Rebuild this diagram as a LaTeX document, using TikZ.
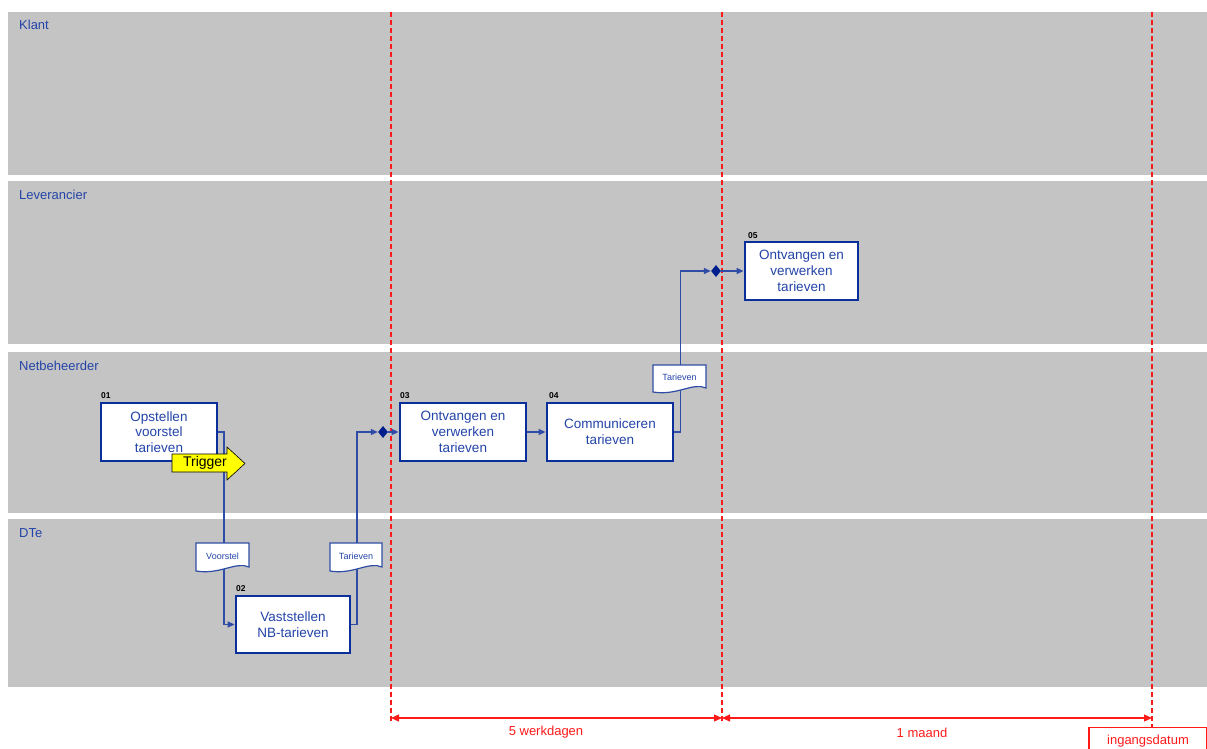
\documentclass[tikz,border=0pt]{standalone}
\usepackage{fontspec}
\setmainfont{Liberation Sans}
\usetikzlibrary{arrows.meta,shapes.geometric}
\definecolor{lanegray}{HTML}{C4C4C4}
\definecolor{bblue}{HTML}{0A2F9A}
\definecolor{tblue}{HTML}{2344A8}
\definecolor{cblue}{HTML}{2F4DA6}
\definecolor{dnavy}{HTML}{001F8C}
\definecolor{rred}{HTML}{FF1A1A}
\definecolor{trig}{HTML}{FFFF00}
\begin{document}
\begin{tikzpicture}[x=1pt,y=-1pt,
  lanelab/.style={anchor=west,inner sep=0pt,text=tblue,font=\fontsize{13}{15}\selectfont},
  proc/.style={draw=bblue,line width=2.8pt,fill=white,text=tblue,align=center,
     font=\fontsize{13.5}{15.8}\selectfont,inner sep=0pt},
  numlab/.style={anchor=south west,inner sep=0pt,font=\bfseries\fontsize{8.5}{9}\selectfont},
  conn/.style={draw=cblue,line width=1.4pt},
  arr/.style={conn,-{Triangle[length=7pt,width=6pt]}},
  docshape/.style={fill=white,draw=cblue,line width=1.2pt},
  doctext/.style={inner sep=0pt,text=tblue,font=\fontsize{9}{10}\selectfont},
  gate/.style={diamond,fill=dnavy,inner sep=0pt,minimum width=10pt,minimum height=12pt},
  vline/.style={draw=rred,line width=1.2pt,dash pattern=on 5pt off 3pt},
  dimline/.style={draw=rred,line width=1.2pt},
  dimlab/.style={inner sep=0pt,text=rred,font=\fontsize{13}{15}\selectfont}
]
\useasboundingbox (0,0) rectangle (1207,749);
% swimlanes
\fill[lanegray] (8,12) rectangle (1207,175);
\fill[lanegray] (8,181) rectangle (1207,344);
\fill[lanegray] (8,352) rectangle (1207,513);
\fill[lanegray] (8,519) rectangle (1207,687);
\node[lanelab] (lk) at (19,25) {Klant};
\node[lanelab] (ll) at (19,195) {Leverancier};
\node[lanelab] (ln) at (19,366) {Netbeheerder};
\node[lanelab] (ld) at (19,533) {DTe};
% time lines
\coordinate (v1t) at (391,12); \coordinate (v1b) at (391,721);
\coordinate (v2t) at (722,12); \coordinate (v2b) at (722,721);
\coordinate (v3t) at (1152,12); \coordinate (v3b) at (1152,727);
\draw[vline] (v1t) -- (v1b);
\draw[vline] (v2t) -- (v2b);
\draw[vline] (v3t) -- (v3b);
\coordinate (t1) at (391,718);
\coordinate (t2) at (722,718);
\coordinate (t3) at (1152,718);
\draw[dimline,{Triangle[length=8pt,width=7pt]}-{Triangle[length=8pt,width=7pt]}] (t1) -- (t2);
\draw[dimline,{Triangle[length=8pt,width=7pt]}-{Triangle[length=8pt,width=7pt]}] (t2) -- (t3);
\node[dimlab] (w5) at (546,732) {5 werkdagen};
\node[dimlab] (m1) at (922,733) {1 maand};
\draw[rred,line width=1.5pt] (1206.5,750) |- (1089,727.5) -- (1089,750);
\node[dimlab] (ingt) at (1148,741) {ingangsdatum};
% process boxes
\node[proc,minimum width=116pt,minimum height=58pt] (b1) at (159,432) {Opstellen\\voorstel\\tarieven};
\node[proc,minimum width=114pt,minimum height=57pt] (b2) at (293,624.5) {Vaststellen\\NB-tarieven};
\node[proc,minimum width=126pt,minimum height=58pt] (b3) at (463,432) {Ontvangen en\\verwerken\\tarieven};
\node[proc,minimum width=126pt,minimum height=58pt] (b4) at (610,432) {Communiceren\\tarieven};
\node[proc,minimum width=113pt,minimum height=58pt] (b5) at (801.5,271) {Ontvangen en\\verwerken\\tarieven};
\node[numlab] (n1) at (101,399) {01};
\node[numlab] (n2) at (236,592) {02};
\node[numlab] (n3) at (400,399) {03};
\node[numlab] (n4) at (549,399) {04};
\node[numlab] (n5) at (748,239) {05};
% gates
\node[gate] (d1) at (383,432) {};
\node[gate] (d2) at (716,271) {};
% connectors
\draw[arr] (b1.east) -- ++(5.5,0) |- (b2.west);
\draw[arr] (b2.east) -- ++(5.5,0) |- (d1.west);
\draw[arr] (d1.east) -- (b3.west);
\draw[arr] (b3.east) -- (b4.west);
\draw[arr] (b4.east) -- ++(6,0) |- (d2.west);
\draw[arr] (d2.east) -- (b5.west);
% documents
\path[docshape] (196,543) -- (249,543) -- (249,567) .. controls (236,561) and (220,575) .. (196,571) -- cycle;
\node[doctext] (dv) at (222.5,556) {Voorstel};
\path[docshape] (330,543) -- (382,543) -- (382,567) .. controls (369,561) and (353,575) .. (330,571) -- cycle;
\node[doctext] (dt1) at (356,556) {Tarieven};
\path[docshape] (653,365) -- (706,365) -- (706,388) .. controls (693,382) and (677,396) .. (653,392) -- cycle;
\node[doctext] (dt2) at (679.5,377) {Tarieven};
% trigger
\path[fill=trig,draw=black,line width=0.6pt] (172,454) -- (227,454) -- (227,447) -- (245,463.5) -- (227,480) -- (227,472) -- (172,472) -- cycle;
\node[inner sep=0pt,font=\fontsize{14}{16}\selectfont] (trg) at (205,463) {Trigger};
\end{tikzpicture}
\end{document}
